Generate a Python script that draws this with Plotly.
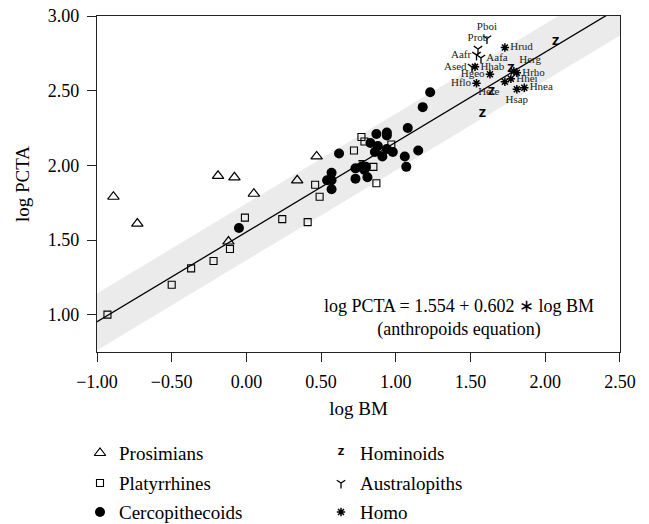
import plotly.graph_objects as go

# ---------------- data ----------------
pros_x = [-0.89, -0.73, -0.19, -0.08, 0.05, -0.12, 0.34, 0.47]
pros_y = [1.79, 1.61, 1.93, 1.92, 1.81, 1.49, 1.90, 2.06]

platy_x = [-0.93, -0.50, -0.37, -0.22, -0.11, -0.01, 0.24, 0.41, 0.46, 0.49,
           0.77, 0.79, 0.72, 0.97, 0.85, 0.87]
platy_y = [1.00, 1.20, 1.31, 1.36, 1.44, 1.65, 1.64, 1.62, 1.87, 1.79,
           2.19, 2.16, 2.10, 2.14, 1.99, 1.88]

cerco_x = [-0.05, 0.62, 0.57, 0.54, 0.57, 0.57, 1.23, 1.18, 1.08, 0.87, 0.94,
           0.94, 0.83, 0.88, 0.86, 0.94, 0.98, 0.91, 1.06, 1.15, 1.07, 0.73,
           0.77, 0.79, 0.80, 0.73, 0.81]
cerco_y = [1.58, 2.08, 1.95, 1.90, 1.90, 1.84, 2.49, 2.39, 2.25, 2.21, 2.22,
           2.20, 2.15, 2.13, 2.09, 2.11, 2.09, 2.06, 2.06, 2.10, 1.99, 1.98,
           1.99, 1.97, 1.99, 1.91, 1.92]

homin_x = [2.07, 1.77, 1.64, 1.58, 0.77]
homin_y = [2.82, 2.64, 2.49, 2.34, 2.00]

austr_names = ["Pboi", "Prob", "Aafr", "Aafa", "Ased"]
austr_x = [1.61, 1.55, 1.54, 1.57, 1.51]
austr_y = [2.85, 2.78, 2.74, 2.72, 2.66]
austr_pos = ["top center", "top center", "middle left", "middle right", "middle left"]

homo_names = ["Hrud", "Hhab", "Hgeo", "Hflo", "Herg", "Hrho", "Hhei", "Here", "Hsap", "Hnea"]
homo_x = [1.73, 1.53, 1.63, 1.54, 1.79, 1.81, 1.77, 1.73, 1.81, 1.86]
homo_y = [2.79, 2.66, 2.61, 2.55, 2.63, 2.62, 2.58, 2.56, 2.51, 2.52]
homo_pos = ["middle right", "middle right", "middle left", "middle left", "top right",
            "middle right", "middle right", "bottom left", "bottom center", "middle right"]

intercept = 1.554
slope = 0.602
band_half = 0.19

x_ticks = [-1.0, -0.5, 0.0, 0.5, 1.0, 1.5, 2.0, 2.5]
x_ticktext = ["\u22121.00", "\u22120.50", "0.00", "0.50", "1.00", "1.50", "2.00", "2.50"]
y_ticks = [1.0, 1.5, 2.0, 2.5, 3.0]
y_ticktext = ["1.00", "1.50", "2.00", "2.50", "3.00"]

legend_names = ["Prosimians", "Platyrrhines", "Cercopithecoids", "Hominoids", "Australopiths", "Homo"]

# ---------------- figure ----------------
# The page body has an 8 px margin, so the figure is sized/positioned to compensate.
OFF = 8
W, H = 649 - OFF, 524 - OFF
L, R, T, B = 97 - OFF, 620 - OFF, 16 - OFF, 352 - OFF
SERIF = "Liberation Serif"

fig = go.Figure()

xl = [x_ticks[0] - 0.2, x_ticks[-1] + 0.2]
fit = [intercept + slope * v for v in xl]
upper = [f + band_half for f in fit]
lower = [f - band_half for f in fit]

fig.add_trace(go.Scatter(x=xl + xl[::-1], y=upper + lower[::-1], fill="toself",
                         fillcolor="#ebebeb", line=dict(width=0), mode="lines",
                         hoverinfo="skip", showlegend=False))
fig.add_trace(go.Scatter(x=xl, y=fit, mode="lines", line=dict(color="black", width=1.3),
                         showlegend=False))

fig.add_trace(go.Scatter(x=pros_x, y=pros_y, mode="markers", showlegend=False,
                         marker=dict(symbol="triangle-up-open", size=10, color="black",
                                     line=dict(width=1.2, color="black"))))
fig.add_trace(go.Scatter(x=platy_x, y=platy_y, mode="markers", showlegend=False,
                         marker=dict(symbol="square-open", size=7, color="black",
                                     line=dict(width=1.1, color="black"))))
fig.add_trace(go.Scatter(x=cerco_x, y=cerco_y, mode="markers", showlegend=False,
                         marker=dict(symbol="circle", size=10, color="black")))
fig.add_trace(go.Scatter(x=homin_x, y=homin_y, mode="text", text=["Z"] * len(homin_x),
                         textposition="middle center", showlegend=False,
                         textfont=dict(family="DejaVu Sans", size=10, color="black", weight="bold")))
fig.add_trace(go.Scatter(x=austr_x, y=austr_y, mode="markers+text", text=austr_names,
                         textposition=austr_pos, showlegend=False,
                         textfont=dict(family=SERIF, size=11, color="#222"),
                         marker=dict(symbol="y-down", size=7, color="black",
                                     line=dict(width=1.3, color="black"))))
fig.add_trace(go.Scatter(x=homo_x, y=homo_y, mode="markers+text", text=homo_names,
                         textposition=homo_pos, showlegend=False,
                         textfont=dict(family=SERIF, size=11, color="#222"),
                         marker=dict(symbol="asterisk", size=7, color="black",
                                     line=dict(width=1.5, color="black"))))

# ---------- legend drawn on a helper axis (pixel units of the figure) ----------
col_mx = [100 - OFF] * 3 + [341 - OFF] * 3
row_y = [453 - OFF, 483 - OFF, 512 - OFF] * 2
fig.add_trace(go.Scatter(x=[col_mx[0]], y=[row_y[0]], xaxis="x2", yaxis="y2", mode="markers",
                         showlegend=False,
                         marker=dict(symbol="triangle-up-open", size=10, color="black",
                                     line=dict(width=1.2, color="black"))))
fig.add_trace(go.Scatter(x=[col_mx[1]], y=[row_y[1]], xaxis="x2", yaxis="y2", mode="markers",
                         showlegend=False,
                         marker=dict(symbol="square-open", size=7, color="black",
                                     line=dict(width=1.1, color="black"))))
fig.add_trace(go.Scatter(x=[col_mx[2]], y=[row_y[2]], xaxis="x2", yaxis="y2", mode="markers",
                         showlegend=False, marker=dict(symbol="circle", size=10, color="black")))
fig.add_trace(go.Scatter(x=[col_mx[3]], y=[row_y[3]], xaxis="x2", yaxis="y2", mode="text",
                         text=["Z"], showlegend=False,
                         textfont=dict(family="DejaVu Sans", size=9, color="black", weight="bold")))
fig.add_trace(go.Scatter(x=[col_mx[4]], y=[row_y[4]], xaxis="x2", yaxis="y2", mode="markers",
                         showlegend=False,
                         marker=dict(symbol="y-down", size=7, color="black",
                                     line=dict(width=1.3, color="black"))))
fig.add_trace(go.Scatter(x=[col_mx[5]], y=[row_y[5]], xaxis="x2", yaxis="y2", mode="markers",
                         showlegend=False,
                         marker=dict(symbol="asterisk", size=7, color="black",
                                     line=dict(width=1.5, color="black"))))
for name, mx, my in zip(legend_names, col_mx, row_y):
    fig.add_annotation(x=mx + 17, y=my, xref="x2", yref="y2", text=name, showarrow=False,
                       xanchor="left", yanchor="middle",
                       font=dict(family=SERIF, size=19, color="black"))

fig.add_annotation(x=1.42, y=0.975, xref="x", yref="y",
                   text="log PCTA = 1.554 + 0.602 \u2217 log BM<br>(anthropoids equation)",
                   showarrow=False, align="center", xanchor="center", yanchor="middle",
                   font=dict(family=SERIF, size=18, color="black"))

axis_common = dict(showgrid=False, zeroline=False, showline=True, linecolor="#222",
                   linewidth=1.3, mirror=True, ticks="outside", ticklen=9, tickwidth=1.3,
                   tickcolor="#222", tickfont=dict(family=SERIF, size=18, color="black"),
                   ticklabelstandoff=4, automargin=False, ticklabeloverflow="allow")

fig.update_layout(
    width=W, height=H,
    margin=dict(l=0, r=0, t=0, b=0, pad=0, autoexpand=False),
    paper_bgcolor="white", plot_bgcolor="white",
    showlegend=False,
    xaxis=dict(axis_common, domain=[L / W, R / W], range=[-1.0, 2.5005],
               tickvals=x_ticks, ticktext=x_ticktext,
               title=dict(text="log BM", font=dict(family=SERIF, size=19, color="black"),
                          standoff=10)),
    yaxis=dict(axis_common, domain=[(H - B) / H, (H - T) / H], range=[0.75, 3.0005],
               tickvals=y_ticks, ticktext=y_ticktext,
               title=dict(text="log PCTA", font=dict(family=SERIF, size=19, color="black"),
                          standoff=13)),
    xaxis2=dict(domain=[0, 1], range=[0, W], visible=False, anchor="y2", automargin=False),
    yaxis2=dict(domain=[0, (H - B) / H], range=[H, B], visible=False, anchor="x2",
                automargin=False),
)

fig.write_html("out.html")
